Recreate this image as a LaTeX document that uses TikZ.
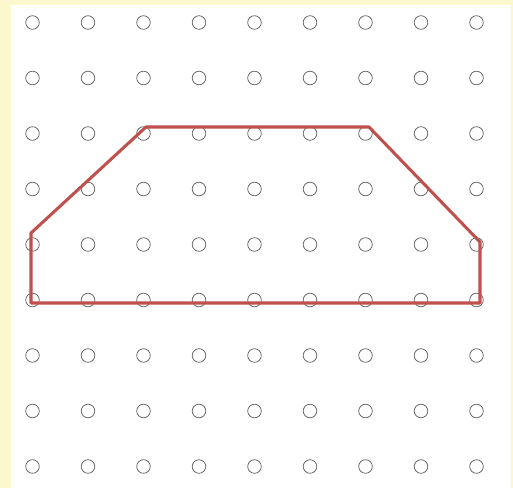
\documentclass[tikz,border=0pt]{standalone}
\definecolor{paleyellow}{RGB}{252,248,206}
\definecolor{shapered}{RGB}{192,80,77}
\definecolor{dotgray}{RGB}{100,100,100}
\begin{document}
\begin{tikzpicture}[x=0.05cm,y=-0.05cm]
	\fill [paleyellow] (0,0) rectangle (513,488);
	\fill [white] (11,5) rectangle (511,488);
	\useasboundingbox (0,0) rectangle (513,488);
	
	\foreach \i in {0,...,8}
		\foreach \j in {0,...,8}
			\draw [dotgray, line width=1.1pt] (32.5+55.5*\i, 22.5+55.5*\j) circle (6.8);
	
	\draw [line width=4.3pt, shapered, line join=round] (31,233) -- (146,127) -- (369,127) -- (480,242) -- (480,303) -- (31,303) -- cycle;
\end{tikzpicture}
\end{document}
